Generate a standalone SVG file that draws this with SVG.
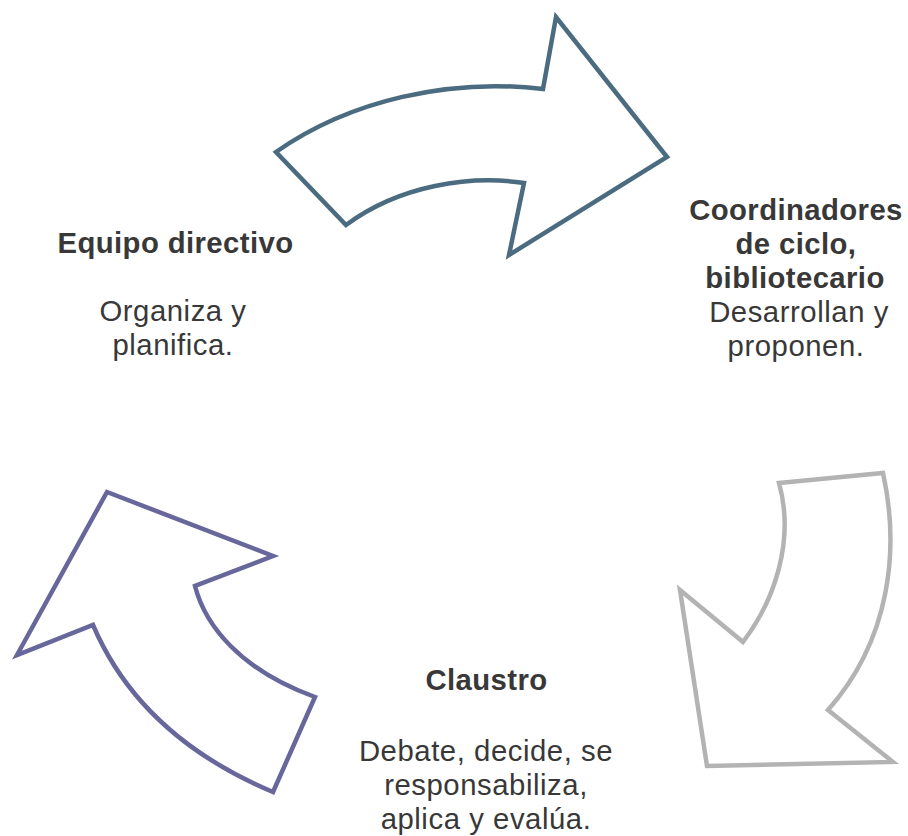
<svg xmlns="http://www.w3.org/2000/svg" width="908" height="836" viewBox="0 0 908 836">
<style>
.arrow{fill:#ffffff;stroke-width:4.5;stroke-linejoin:miter}
.t{font-family:"Liberation Sans",Arial,sans-serif;font-size:29.3px;fill:#383838;text-anchor:middle;letter-spacing:0.55px}
.b{font-weight:bold;letter-spacing:0.4px}
</style>
<rect width="908" height="836" fill="#ffffff"/>
<g id="connectors">
<path id="arrow-top" class="arrow" stroke="#4b6b80" d="M276,152 C350,100 450,78 543,89 L556,17 L667,157 L509,255 L524,183 C470,175 400,185 346,225 Z"/>
<path id="arrow-right" class="arrow" stroke="#b3b3b3" d="M779,483 L883,473 C900,550 890,640 828,710 L893,762 L707,766 L680,590 L743,642 C775,600 795,540 779,483 Z"/>
<path id="arrow-left" class="arrow" stroke="#67679b" d="M107,492 L273,556 L195,586 C205,625 240,670 315,697 L273,792 C185,755 125,700 93,625 L17,655 Z"/>
</g>
<g id="node-equipo">
<text class="t b" x="175.5" y="253">Equipo directivo</text>
<text class="t" x="173" y="321">Organiza y</text>
<text class="t" x="173" y="355">planifica.</text>
</g>
<g id="node-coordinadores">
<text class="t b" x="796" y="220">Coordinadores</text>
<text class="t b" x="796" y="254">de ciclo,</text>
<text class="t b" x="795" y="288">bibliotecario</text>
<text class="t" x="799" y="322">Desarrollan y</text>
<text class="t" x="796" y="356">proponen.</text>
</g>
<g id="node-claustro">
<text class="t b" x="486.5" y="690">Claustro</text>
<text class="t" x="486" y="761">Debate, decide, se</text>
<text class="t" x="486" y="795">responsabiliza,</text>
<text class="t" x="486" y="829">aplica y evalúa.</text>
</g>
</svg>
